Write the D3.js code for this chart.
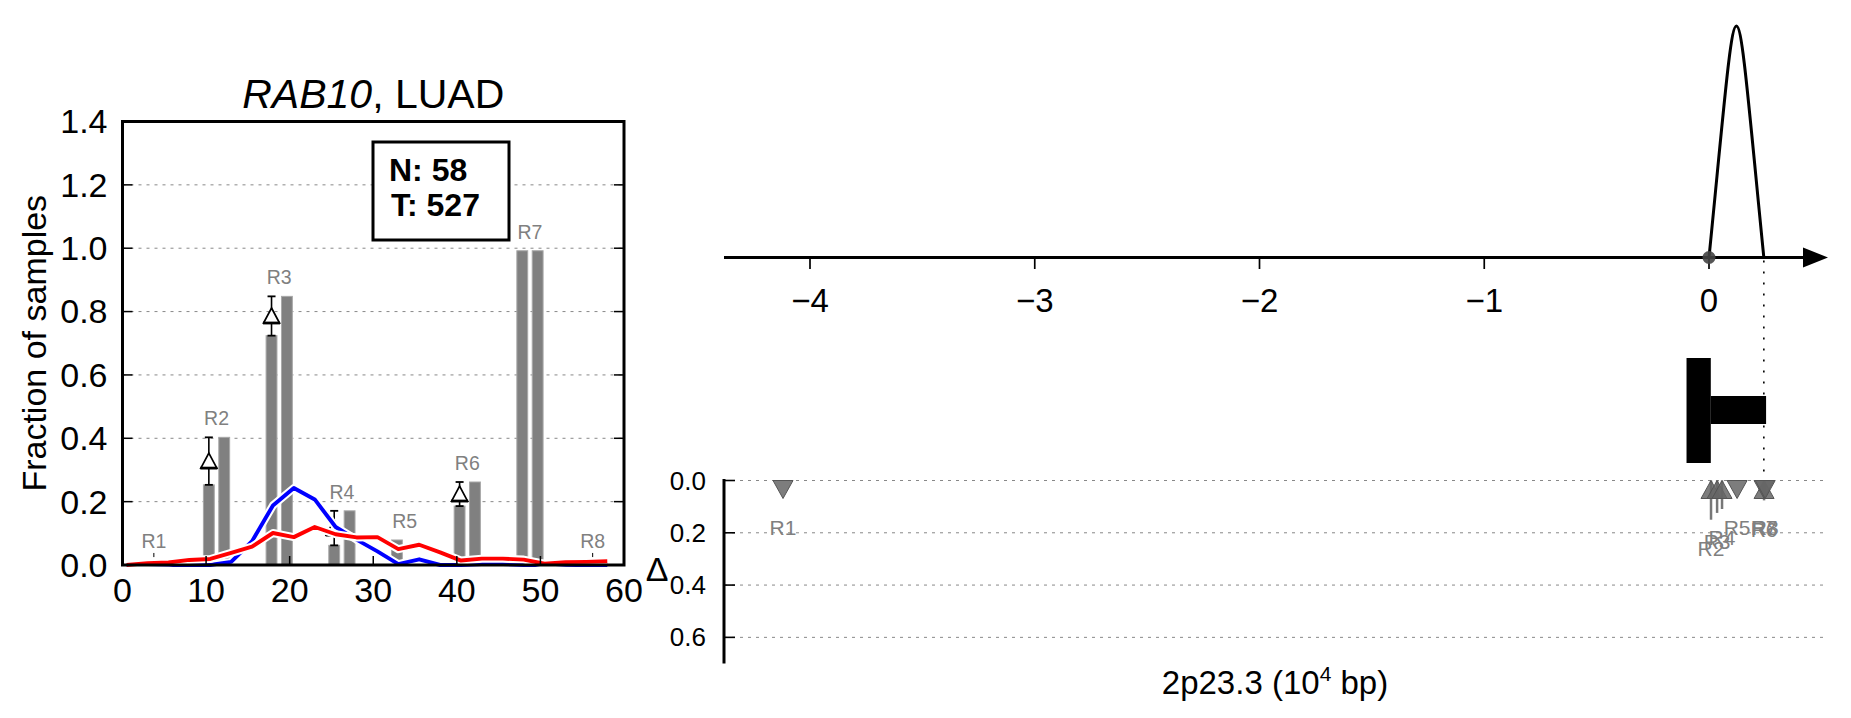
<!DOCTYPE html>
<html><head><meta charset="utf-8">
<script src="https://cdn.jsdelivr.net/npm/d3@7"></script>
<style>body{margin:0;background:#fff;} svg text{font-family:"Liberation Sans",Arial,Helvetica,sans-serif;}</style>
</head><body><svg id="c" width="1851" height="718"></svg>
<script>
// ---------- data ----------
const regions = ["R1","R2","R3","R4","R5","R6","R7","R8"];
const regionCenters = [3.75, 11.25, 18.75, 26.25, 33.75, 41.25, 48.75, 56.25];
const normalFrac = [0.0, 0.253, 0.724, 0.062, 0.079, 0.186, 0.992, 0.0];
const tumorFrac  = [0.0, 0.403, 0.848, 0.171, 0.0, 0.262, 0.992, 0.0];
const curveX = [0.5,3,5.5,8,10.5,13,15.5,18,20.5,23,25.5,28,30.5,33,35.5,38,40.5,43,45.5,48,50.5,53,55.5,58];
const blueY  = [0,0,0,0,0,0.01,0.075,0.188,0.243,0.207,0.12,0.08,0.043,0.003,0.018,0,0,0.003,0.003,0,0,0,0,0];
const redY   = [0,0.006,0.008,0.016,0.019,0.038,0.058,0.101,0.088,0.12,0.097,0.087,0.088,0.05,0.064,0.04,0.014,0.02,0.02,0.017,0.004,0.009,0.01,0.012];
const xTicks = [0,10,20,30,40,50,60];
const yTicks = [0,0.2,0.4,0.6,0.8,1.0,1.2,1.4];
const gridTicks = [0.2,0.4,0.6,0.8,1.0,1.2];
const sampleLines = ["N: 58","T: 527"];
const titleGene = "RAB10", titleRest = ", LUAD";
// genomic panel (10^4 bp)
const genomicPos = [-4.12, 0.009, 0.036, 0.058, 0.125, 0.245, 0.245, 0.25];
const posTicks = [-4,-3,-2,-1,0];
const arcRange = [0, 0.244];
const tssBar = [-0.1, 0.008];
const geneBody = [0.008, 0.254];
const deltaTicks = [0,0.2,0.4,0.6];
const xLabelMain = "2p23.3 (10", xLabelSup = "4", xLabelEnd = " bp)";

const svg = d3.select("#c");

// ---------- left chart ----------
const L = {l:122.5, r:624, t:121.5, b:565};
const x = d3.scaleLinear([0,60],[L.l,L.r]);
const y = d3.scaleLinear([0,1.4],[L.b,L.t]);
const g = svg.append("g");

// grid
g.selectAll(".grid").data(gridTicks).join("line")
  .attr("x1",L.l).attr("x2",L.r).attr("y1",d=>y(d)).attr("y2",d=>y(d))
  .attr("stroke","#888").attr("stroke-width",1).attr("stroke-dasharray","3,5");

// bars
const off = 0.92, bw = x(1.3)-x(0);
const barData = [];
regions.forEach((r,i)=>{
  barData.push({x:regionCenters[i]-off, v:normalFrac[i]});
  barData.push({x:regionCenters[i]+off, v:tumorFrac[i]});
});
g.selectAll(".bar").data(barData).join("rect")
  .attr("x",d=>x(d.x)-bw/2).attr("width",bw)
  .attr("y",d=>y(d.v)).attr("height",d=>y(0)-y(d.v))
  .attr("fill","#808080").attr("stroke","#a8a8a8").attr("stroke-width",1);

// region labels
g.selectAll(".rl").data(regions).join("text")
  .attr("x",(d,i)=>x(regionCenters[i]))
  .attr("y",(d,i)=>y(Math.max(normalFrac[i],tumorFrac[i],0.014)+0.06))
  .attr("dy","0.35em").attr("text-anchor","middle")
  .attr("font-size",19.5).attr("fill","#808080").text(d=>d);

// tiny marks for empty regions
regions.forEach((r,i)=>{
  if (normalFrac[i]===0 && tumorFrac[i]===0) {
    g.append("line").attr("x1",x(regionCenters[i])).attr("x2",x(regionCenters[i]))
      .attr("y1",y(0.025)).attr("y2",y(0.038)).attr("stroke","#000").attr("stroke-width",1);
  }
});

// delta markers (tumor > normal)
regions.forEach((r,i)=>{
  const n = normalFrac[i], t = tumorFrac[i];
  if (t - n > 0.02) {
    const cx = x(regionCenters[i]-off);
    const y1 = y(n), y2 = y(t), my = (y1+y2)/2;
    const eg = g.append("g");
    eg.append("line").attr("x1",cx).attr("x2",cx).attr("y1",y1).attr("y2",y2).attr("stroke","#000").attr("stroke-width",1.6);
    [y1,y2].forEach(yy=>eg.append("line").attr("x1",cx-4).attr("x2",cx+4).attr("y1",yy).attr("y2",yy).attr("stroke","#000").attr("stroke-width",1.8));
    eg.append("path").attr("d",`M${cx},${my-8}L${cx+8},${my+7}L${cx-8},${my+7}Z`)
      .attr("fill","#fff").attr("stroke","#000").attr("stroke-width",1.7).attr("stroke-linejoin","miter");
    eg.append("line").attr("x1",cx-8.5).attr("x2",cx+8.5).attr("y1",my+7).attr("y2",my+7).attr("stroke","#000").attr("stroke-width",2.8);
  }
});

// lines with white halo
const line = d3.line().x((d,i)=>x(curveX[i])).y(d=>y(d));
[[blueY,"#0000ff"],[redY,"#ff0000"]].forEach(([vals,col])=>{
  g.append("path").attr("d",line(vals)).attr("fill","none").attr("stroke","#fff").attr("stroke-width",8).attr("stroke-linejoin","round");
  g.append("path").attr("d",line(vals)).attr("fill","none").attr("stroke",col).attr("stroke-width",3.9).attr("stroke-linejoin","round");
});

// ticks
yTicks.forEach(v=>{
  if (v>0 && v<1.4) {
    g.append("line").attr("x1",L.l).attr("x2",L.l+10).attr("y1",y(v)).attr("y2",y(v)).attr("stroke","#000").attr("stroke-width",1.5);
    g.append("line").attr("x1",L.r-10).attr("x2",L.r).attr("y1",y(v)).attr("y2",y(v)).attr("stroke","#000").attr("stroke-width",1.5);
  }
});
xTicks.forEach(v=>{
  if (v>0 && v<60) g.append("line").attr("x1",x(v)).attr("x2",x(v)).attr("y1",L.b).attr("y2",L.b-9).attr("stroke","#000").attr("stroke-width",1.5);
});
// frame
g.append("rect").attr("x",L.l).attr("y",L.t).attr("width",L.r-L.l).attr("height",L.b-L.t)
  .attr("fill","none").attr("stroke","#000").attr("stroke-width",3);

// tick labels
g.selectAll(".yt").data(yTicks).join("text")
  .attr("x",L.l-15).attr("y",d=>y(d)).attr("dy","0.35em").attr("text-anchor","end")
  .attr("font-size",34).text(d=>d3.format(".1f")(d));
g.selectAll(".xt").data(xTicks).join("text")
  .attr("x",d=>x(d)).attr("y",602).attr("text-anchor","middle")
  .attr("font-size",34).text(d=>d);

// y label
g.append("text").attr("transform",`translate(34,${(L.t+L.b)/2}) rotate(-90)`)
  .attr("dy","0.35em").attr("text-anchor","middle").attr("font-size",34).text("Fraction of samples");

// title
const tt = g.append("text").attr("x",(L.l+L.r)/2).attr("y",108).attr("text-anchor","middle").attr("font-size",41);
tt.append("tspan").attr("font-style","italic").text(titleGene);
tt.append("tspan").text(titleRest);

// N/T box
g.append("rect").attr("x",373).attr("y",142).attr("width",136).attr("height",98)
  .attr("fill","#fff").attr("stroke","#000").attr("stroke-width",3);
sampleLines.forEach((s,i)=>{
  g.append("text").attr("x",389+i*2).attr("y",181+i*35).attr("font-size",32).attr("font-weight","bold").text(s);
});

// ---------- right panel ----------
const xg = d3.scaleLinear([-4,0],[810,1709]);
const axY = 257.5;
const rg = svg.append("g");
rg.append("line").attr("x1",724).attr("x2",1806).attr("y1",axY).attr("y2",axY).attr("stroke","#000").attr("stroke-width",3);
rg.append("path").attr("d",`M1803,${axY-10}L1828,${axY}L1803,${axY+10}Z`).attr("fill","#000");
rg.selectAll(".pt").data(posTicks).join("line")
  .attr("x1",d=>xg(d)).attr("x2",d=>xg(d)).attr("y1",axY).attr("y2",axY+11.5)
  .attr("stroke","#000").attr("stroke-width",1.7);
rg.selectAll(".ptl").data(posTicks).join("text")
  .attr("x",d=>xg(d)).attr("y",312).attr("text-anchor","middle").attr("font-size",33)
  .text(d=>d3.format("d")(d));

// arc
{
  const x0 = xg(arcRange[0]), x1 = xg(arcRange[1]), w = x1-x0, a = 0.56, h1 = (axY-26)*4/3;
  const p = d3.path();
  p.moveTo(x0,axY);
  p.bezierCurveTo(x0+a*w, axY-h1, x1-a*w, axY-h1, x1, axY);
  rg.append("path").attr("d",p.toString()).attr("fill","none").attr("stroke","#000").attr("stroke-width",3);
  rg.append("circle").attr("cx",x0).attr("cy",axY).attr("r",6.5).attr("fill","#444").attr("fill-opacity",0.9);
}

// lower delta panel
const yd = d3.scaleLinear([0,0.7],[480.5,663.5]);
rg.selectAll(".dg").data(deltaTicks).join("line")
  .attr("x1",724).attr("x2",1828).attr("y1",d=>yd(d)).attr("y2",d=>yd(d))
  .attr("stroke","#888").attr("stroke-width",1).attr("stroke-dasharray","3,5");
// dotted connector
rg.append("line").attr("x1",xg(arcRange[1])).attr("x2",xg(arcRange[1]))
  .attr("y1",axY+3).attr("y2",yd(0)).attr("stroke","#000").attr("stroke-width",1.6).attr("stroke-dasharray","2,9");
// gene glyph
rg.append("rect").attr("x",xg(tssBar[0])).attr("width",xg(tssBar[1])-xg(tssBar[0])).attr("y",358).attr("height",105).attr("fill","#000");
rg.append("rect").attr("x",xg(geneBody[0])).attr("width",xg(geneBody[1])-xg(geneBody[0])).attr("y",396).attr("height",28).attr("fill","#000");

rg.append("line").attr("x1",724).attr("x2",724).attr("y1",yd(0)-1.5).attr("y2",yd(0.7)).attr("stroke","#000").attr("stroke-width",3);
rg.selectAll(".dt").data(deltaTicks).join("line")
  .attr("x1",724).attr("x2",735).attr("y1",d=>yd(d)).attr("y2",d=>yd(d)).attr("stroke","#000").attr("stroke-width",1.6);
rg.selectAll(".dtl").data(deltaTicks).join("text")
  .attr("x",706).attr("y",d=>yd(d)).attr("dy","0.35em").attr("text-anchor","end").attr("font-size",26)
  .text(d=>d3.format(".1f")(d));
rg.append("text").attr("x",657).attr("y",569).attr("dy","0.35em").attr("text-anchor","middle").attr("font-size",34).text("Δ");
const xl = rg.append("text").attr("x",1275).attr("y",694).attr("text-anchor","middle").attr("font-size",33);
xl.append("tspan").text(xLabelMain);
xl.append("tspan").attr("font-size",21).attr("dy",-13).text(xLabelSup);
xl.append("tspan").attr("dy",13).text(xLabelEnd);

// stems, triangles, labels
const triY = yd(0)+9;
const deltas = regions.map((r,i)=>tumorFrac[i]-normalFrac[i]);
regions.forEach((r,i)=>{
  const d = deltas[i];
  if (d > 0.02) rg.append("line").attr("x1",xg(genomicPos[i])).attr("x2",xg(genomicPos[i]))
     .attr("y1",yd(0)).attr("y2",yd(d)).attr("stroke","#777").attr("stroke-width",2.5);
});
regions.forEach((r,i)=>{
  const cx = xg(genomicPos[i]), up = deltas[i] > 0.02;
  const path = up ? `M${cx},${triY-9}L${cx+10},${triY+9}L${cx-10},${triY+9}Z`
                  : `M${cx-10},${triY-9}L${cx+10},${triY-9}L${cx},${triY+9}Z`;
  rg.append("path").attr("d",path).attr("fill","#666").attr("fill-opacity",0.85).attr("stroke","#555").attr("stroke-width",1);
});
regions.forEach((r,i)=>{
  const d = deltas[i] > 0.02 ? deltas[i] : 0;
  const ly = Math.max(triY+9, yd(d)) + 29;
  rg.append("text").attr("x",xg(genomicPos[i])).attr("y",ly).attr("dy","0.35em").attr("text-anchor","middle")
    .attr("font-size",21).attr("fill","#808080").text(r);
});
</script></body></html>
